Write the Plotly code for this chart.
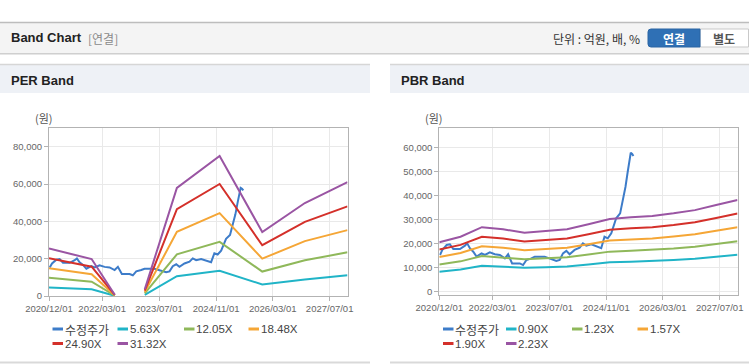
import plotly.graph_objects as go

W, H = 749, 364

# ---------------- data ----------------
price_dates = ["2020-12-07", "2020-12-27", "2021-02-02", "2021-03-02", "2021-03-31", "2021-05-27",
               "2021-07-09", "2021-07-28", "2021-08-20", "2021-09-18", "2021-10-17", "2021-11-28",
               "2021-12-27", "2022-02-07", "2022-03-22", "2022-05-04", "2022-06-16", "2022-07-14",
               "2022-08-17", "2022-10-22", "2022-11-19", "2022-12-18", "2023-01-30", "2023-02-27",
               "2023-05-23", "2023-07-05", "2023-08-02", "2023-08-31", "2023-09-29", "2023-10-27",
               "2023-11-25", "2023-12-23", "2024-02-04", "2024-03-18", "2024-04-15", "2024-05-14",
               "2024-06-26", "2024-08-21", "2024-09-19", "2024-10-17", "2024-11-14", "2024-12-14",
               "2025-01-25", "2025-02-28", "2025-03-23", "2025-04-15", "2025-05-04", "2025-05-19",
               "2025-05-30", "2025-06-11", "2025-06-22"]
price_values = [15300, 17400, 19450, 19750, 17800, 17800,
                19170, 20150, 18100, 16670, 14600, 16000,
                15300, 16400, 15600, 15300, 13900, 15600,
                11800, 11800, 11100, 13200, 13900, 14600,
                14600, 13900, 13200, 12800, 13200, 16000,
                17000, 15600, 17400, 18350, 20150, 19200,
                19750, 18750, 18100, 22900, 22250, 24300,
                30600, 32650, 38200, 43750, 50000, 54900,
                57900, 57400, 56550]

per_dates = ["2020-12-01", "2021-12-01", "2022-06-17", "2022-09-01", "2023-03-01",
             "2023-12-01", "2024-12-01", "2025-12-01", "2026-12-01", "2027-12-01"]
per_5_63 = [4600, 3600, 130, None, 650, 10600, 13500, 6200, 8900, 11100]
per_12_05 = [9800, 7700, 270, None, 1400, 22300, 29000, 13100, 19100, 23400]
per_18_48 = [14900, 11700, 420, None, 2150, 34400, 44400, 20000, 29400, 35300]
per_24_90 = [20200, 15700, 560, None, 2900, 46500, 60000, 27200, 39700, 48000]
per_31_32 = [25400, 19800, 700, None, 3600, 57900, 75000, 34300, 49800, 61000]

pbr_dates = ["2020-12-01", "2021-06-01", "2021-12-01", "2022-06-01", "2022-12-01",
             "2023-06-01", "2023-12-01", "2024-06-01", "2024-12-01", "2025-06-01",
             "2025-12-01", "2026-06-01", "2026-12-01", "2027-06-01", "2027-12-01"]
pbr_0_90 = [8300, 9250, 10850, 10500, 9950, 10200, 10500, 11350, 12250, 12500,
            12750, 13200, 13700, 14550, 15400]
pbr_1_23 = [11350, 12650, 14850, 14350, 13550, 13950, 14350, 15500, 16700, 17100,
            17400, 18000, 18750, 19900, 21050]
pbr_1_57 = [14500, 16100, 18950, 18300, 17300, 17800, 18300, 19800, 21350, 21800,
            22200, 23000, 23950, 25400, 26900]
pbr_1_90 = [17550, 19500, 22900, 22150, 20950, 21550, 22150, 23950, 25800, 26400,
            26900, 27800, 28950, 30750, 32550]
pbr_2_23 = [20600, 22900, 26900, 26000, 24600, 25300, 26000, 28100, 30300, 31000,
            31550, 32650, 34000, 36100, 38200]

x_tick_dates = ["2020-12-01", "2022-03-01", "2023-07-01", "2024-11-01", "2026-03-01", "2027-07-01"]
x_tick_text = ["2020/12/01", "2022/03/01", "2023/07/01", "2024/11/01", "2026/03/01", "2027/07/01"]
x_range = ["2020-12-01", "2027-12-01"]

price_name = "수정주가"
per_names = ["5.63X", "12.05X", "18.48X", "24.90X", "31.32X"]
pbr_names = ["0.90X", "1.23X", "1.57X", "1.90X", "2.23X"]

# ---------------- style ----------------
C_PRICE = "#3d7cc9"
BAND_COLORS = ["#20b4c7", "#8fb85a", "#f5a636", "#d4302a", "#9a55a3"]
AX = "#b3b3b3"
GRID = "#e9e9e9"
TICKC = "#666666"
SANS = "Liberation Sans, Arial, Noto Sans CJK KR, sans-serif"
KR = "Noto Sans CJK KR, Liberation Sans, sans-serif"


def px(x):
    return x / W


def py(y):
    return 1 - y / H


fig = go.Figure()

per_series = [per_5_63, per_12_05, per_18_48, per_24_90, per_31_32]
pbr_series = [pbr_0_90, pbr_1_23, pbr_1_57, pbr_1_90, pbr_2_23]

fig.add_trace(go.Scatter(x=price_dates, y=price_values, mode="lines", name=price_name,
                         line=dict(color=C_PRICE, width=2), xaxis="x", yaxis="y", showlegend=False))
for vals, nm, col in zip(per_series, per_names, BAND_COLORS):
    fig.add_trace(go.Scatter(x=per_dates, y=vals, mode="lines", name=nm,
                             line=dict(color=col, width=2), xaxis="x", yaxis="y", showlegend=False))

fig.add_trace(go.Scatter(x=price_dates, y=price_values, mode="lines", name=price_name,
                         line=dict(color=C_PRICE, width=2), xaxis="x2", yaxis="y2", showlegend=False))
for vals, nm, col in zip(pbr_series, pbr_names, BAND_COLORS):
    fig.add_trace(go.Scatter(x=pbr_dates, y=vals, mode="lines", name=nm,
                             line=dict(color=col, width=2), xaxis="x2", yaxis="y2", showlegend=False))

xcommon = dict(type="date", range=x_range, tickvals=x_tick_dates, ticktext=x_tick_text, tickangle=0,
               showgrid=True, gridcolor=GRID, gridwidth=1, showline=True, linecolor=AX, linewidth=1,
               mirror=True, ticks="outside", ticklen=4, tickcolor=AX, automargin=False,
               tickfont=dict(family=SANS, size=9.5, color=TICKC), zeroline=False, fixedrange=True)
ycommon = dict(showgrid=True, gridcolor=GRID, gridwidth=1, showline=True, linecolor=AX, linewidth=1,
               mirror=True, ticks="outside", ticklen=4, tickcolor=AX, tickformat=",d", automargin=False,
               tickfont=dict(family=SANS, size=9.5, color=TICKC), zeroline=False, fixedrange=True)

fig.update_layout(
    width=W, height=H, margin=dict(l=0, r=0, t=0, b=0, pad=0), autosize=False,
    paper_bgcolor="white", plot_bgcolor="white", showlegend=False,
    xaxis=dict(domain=[px(49), px(347.5)], anchor="y", **xcommon),
    yaxis=dict(domain=[py(296), py(128)], anchor="x", range=[0, 90000], dtick=20000, **ycommon),
    xaxis2=dict(domain=[px(439.3), px(737.5)], anchor="y2", **xcommon),
    yaxis2=dict(domain=[py(295), py(128.3)], anchor="x2", range=[-1375, 68100],
                tickvals=[0, 10000, 20000, 30000, 40000, 50000, 60000], **ycommon),
)

shapes = []
anns = []


def rect(x0, y0, x1, y1, fill, line=None, lw=0):
    shapes.append(dict(type="rect", xref="paper", yref="paper", x0=px(x0), x1=px(x1), y0=py(y1), y1=py(y0),
                       fillcolor=fill, line=dict(color=line or fill, width=lw), layer="below"))


def hline(x0, x1, y, color, w=1):
    shapes.append(dict(type="line", xref="paper", yref="paper", x0=px(x0), x1=px(x1), y0=py(y), y1=py(y),
                       line=dict(color=color, width=w)))


def text(t, x, y, size, color, family=SANS, xanchor="left"):
    anns.append(dict(text=t, xref="paper", yref="paper", x=px(x), y=py(y), xanchor=xanchor, yanchor="middle",
                     showarrow=False, font=dict(family=family, size=size, color=color)))


# top header bar
rect(0, 22, 749, 53, "#f4f4f4")
hline(0, 749, 22.5, "#bdbdbd", 1.5)
hline(0, 749, 53.5, "#cfcfcf", 1)
hline(0, 749, 54.5, "#e6e6e6", 1)
text("<b>Band Chart</b>", 9, 38, 13, "#222222", family=SANS)
text("[연결]", 86, 38.5, 12, "#8a8a8a", family=KR)
text("단위 : 억원, 배, %", 642, 38.5, 12, "#333333", family=KR, xanchor="right")
# buttons
shapes.append(dict(type="path", xref="paper", yref="paper",
                   path=(f"M {px(700)} {py(29)} L {px(651)} {py(29)} Q {px(648)} {py(29)} {px(648)} {py(32)} "
                         f"L {px(648)} {py(44)} Q {px(648)} {py(47)} {px(651)} {py(47)} L {px(700)} {py(47)} Z"),
                   fillcolor="#2f70b5", line=dict(color="#2a64a3", width=1)))
rect(700, 29, 748.5, 47, "#ffffff", "#c9c9c9", 1)
text("<b>연결</b>", 674, 38.5, 12, "#ffffff", family=KR, xanchor="center")
text("<b>별도</b>", 724, 38.5, 12, "#555555", family=KR, xanchor="center")

# panel headers
for x0, x1, title in [(0, 370, "PER Band"), (390, 749, "PBR Band")]:
    rect(x0, 64, x1, 93, "#eef1f6")
    hline(x0, x1, 64.5, "#d6d6d6", 1.5)
    text("<b>" + title + "</b>", x0 + 9, 80, 13, "#222222", family=SANS)
    hline(x0, x1, 362.5, "#d9d9d9", 2)

# unit labels
text("(원)", 44, 118, 11, "#555555", family=KR, xanchor="center")
text("(원)", 434, 118, 11, "#555555", family=KR, xanchor="center")

# legends (drawn manually)
all_names_l = [price_name] + per_names
all_names_r = [price_name] + pbr_names
colors = [C_PRICE] + BAND_COLORS
pos_l = [(52.5, 329), (117.5, 329), (184, 329), (248.5, 329), (52.5, 343.5), (117.5, 343.5)]
pos_r = [(443, 329), (506, 329), (572, 329), (637.5, 329), (443, 343.5), (506, 343.5)]
for names, pos in [(all_names_l, pos_l), (all_names_r, pos_r)]:
    for nm, col, (x, y) in zip(names, colors, pos):
        hline(x, x + 10.5, y, col, 3)
        text(nm, x + 10, y, 12 if nm == price_name else 11.5, "#444444",
             family=KR if nm == price_name else SANS)

fig.update_layout(shapes=shapes, annotations=anns)
fig.write_html("out.html", config={"displayModeBar": False},
               post_script="document.body.style.margin='0';document.body.style.overflow='hidden';")
